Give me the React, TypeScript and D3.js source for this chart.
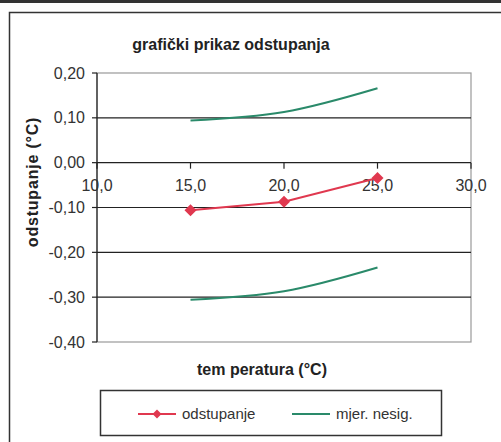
import React, { ReactElement } from 'react';
import * as d3 from 'd3';

// data
const temperatures = [15, 20, 25];
const odstupanje = [-0.106, -0.087, -0.034];
const nesigGornja = [0.094, 0.113, 0.166];
const nesigDonja = [-0.306, -0.287, -0.234];
const xTicks = [10, 15, 20, 25, 30];
const yTicks = [0.2, 0.1, 0, -0.1, -0.2, -0.3, -0.4];

const RED = '#e0384f';
const GREEN = '#2a8a6a';
const FONT = '"Liberation Sans", Arial, sans-serif';

const fmt = (v: number, d: number) => v.toFixed(d).replace('.', ',');

const App = (): ReactElement => {
  const width = 501,
        height = 442;
  const plot = { left: 97, right: 471, top: 73, bottom: 342 };

  const x = d3.scaleLinear().domain([10, 30]).range([plot.left, plot.right]);
  const y = d3.scaleLinear().domain([0.2, -0.4]).range([plot.top, plot.bottom]);

  const straight = d3.line<number>()
                     .x((d, i) => x(temperatures[i]))
                     .y(d => y(d));
  // Excel "smoothed line" look for the uncertainty band
  const smooth = d3.line<number>()
                   .x((d, i) => x(temperatures[i]))
                   .y(d => y(d))
                   .curve(d3.curveCatmullRom.alpha(0.5));

  const diamond = (cx: number, cy: number, r: number) =>
    `M${cx},${cy - r}L${cx + r},${cy}L${cx},${cy + r}L${cx - r},${cy}Z`;

  return (
    <svg width={width} height={height} style={{ position: 'absolute', left: 0, top: 0, background: '#fff' }}>
      {/* scan edge + outer chart frame */}
      <rect x={0} y={0} width={width} height={3} fill="#333" />
      <path d={`M9.5,${height}V12.5H${width}`} fill="none" stroke="#333" strokeWidth={1.5} />

      <text x={231} y={50} textAnchor="middle" fontFamily={FONT} fontSize={16} fontWeight="bold" fill="#222">
        grafički prikaz odstupanja
      </text>

      {/* plot frame */}
      <rect x={plot.left} y={plot.top} width={plot.right - plot.left} height={plot.bottom - plot.top}
            fill="none" stroke="#999" strokeWidth={1.2} />

      {/* y grid and ticks */}
      {yTicks.map(t => (
        <g key={t}>
          {t !== 0.2 && t !== -0.4 && (
            <line x1={plot.left} x2={plot.right} y1={y(t)} y2={y(t)} stroke="#222" strokeWidth={1.2} />
          )}
          <line x1={plot.left - 5} x2={plot.left} y1={y(t)} y2={y(t)} stroke="#222" strokeWidth={1.2} />
          <text x={85} y={y(t)} dy="0.35em" textAnchor="end" fontFamily={FONT} fontSize={16} fill="#333">
            {fmt(t, 2)}
          </text>
        </g>
      ))}
      <line x1={plot.left} x2={plot.left} y1={plot.top} y2={plot.bottom} stroke="#222" strokeWidth={1.2} />

      {/* x axis at zero */}
      {xTicks.map(t => (
        <g key={t}>
          <line x1={x(t)} x2={x(t)} y1={y(0)} y2={y(0) + 6} stroke="#222" strokeWidth={1.2} />
          <text x={x(t)} y={191} textAnchor="middle" fontFamily={FONT} fontSize={16} fill="#333">
            {fmt(t, 1)}
          </text>
        </g>
      ))}

      {/* series */}
      <path d={smooth(nesigGornja) ?? ''} fill="none" stroke={GREEN} strokeWidth={2} />
      <path d={smooth(nesigDonja) ?? ''} fill="none" stroke={GREEN} strokeWidth={2} />
      <path d={straight(odstupanje) ?? ''} fill="none" stroke={RED} strokeWidth={2} />
      {odstupanje.map((v, i) => (
        <path key={i} d={diamond(x(temperatures[i]), y(v), 6)} fill={RED} />
      ))}

      {/* axis titles */}
      <text transform={`translate(38,182) rotate(-90)`} textAnchor="middle" fontFamily={FONT}
            fontSize={16} fontWeight="bold" letterSpacing={0.8} fill="#222">
        odstupanje (°C)
      </text>
      <text x={262} y={375} textAnchor="middle" fontFamily={FONT} fontSize={16} fontWeight="bold" fill="#222">
        tem peratura (°C)
      </text>

      {/* legend */}
      <rect x={100.5} y={390.5} width={341} height={45} fill="#fff" stroke="#333" strokeWidth={1.5} />
      <line x1={138} x2={176} y1={414} y2={414} stroke={RED} strokeWidth={2} />
      <path d={diamond(157, 414, 4.5)} fill={RED} />
      <text x={182} y={419} fontFamily={FONT} fontSize={15} fill="#333">odstupanje</text>
      <line x1={292} x2={330} y1={414} y2={414} stroke={GREEN} strokeWidth={2} />
      <text x={336} y={419} fontFamily={FONT} fontSize={15} fill="#333">mjer. nesig.</text>
    </svg>
  );
};

export default App;
